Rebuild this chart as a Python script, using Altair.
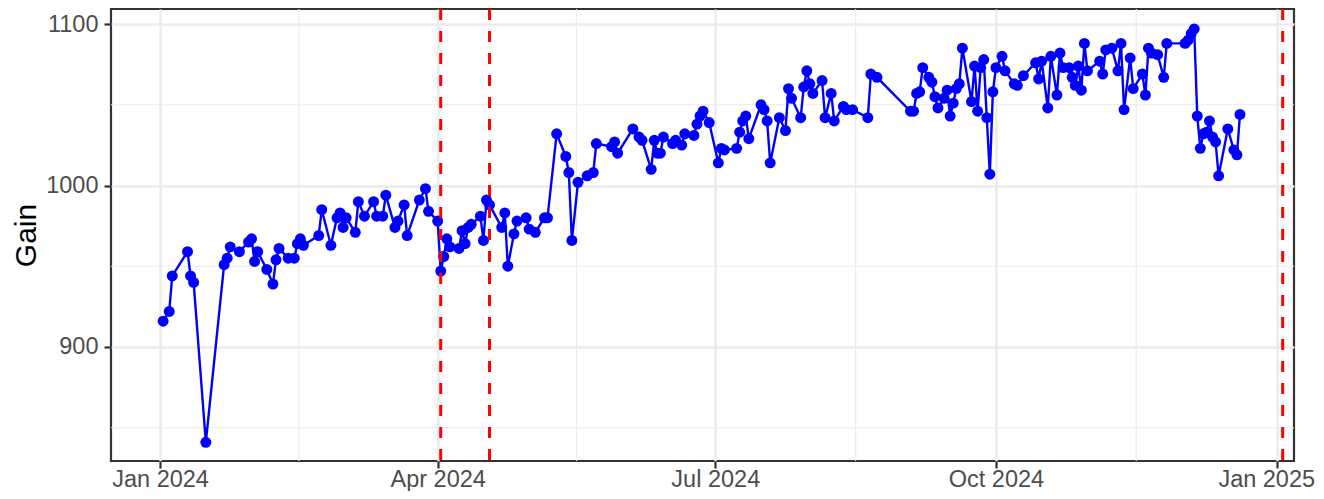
import altair as alt
import pandas as pd

# ---- data ----
dates = [
    "2024-01-02", "2024-01-04", "2024-01-05", "2024-01-10", "2024-01-11", "2024-01-12",
    "2024-01-16", "2024-01-22", "2024-01-23", "2024-01-24", "2024-01-27", "2024-01-30",
    "2024-01-31", "2024-02-01", "2024-02-02", "2024-02-05", "2024-02-07", "2024-02-08",
    "2024-02-09", "2024-02-12", "2024-02-14", "2024-02-15", "2024-02-16", "2024-02-17",
    "2024-02-22", "2024-02-23", "2024-02-26", "2024-02-28", "2024-02-29", "2024-03-01",
    "2024-03-02", "2024-03-05", "2024-03-06", "2024-03-08", "2024-03-11", "2024-03-12",
    "2024-03-14", "2024-03-15", "2024-03-18", "2024-03-19", "2024-03-21", "2024-03-22",
    "2024-03-26", "2024-03-28", "2024-03-29", "2024-04-01",
    "2024-04-02", "2024-04-03", "2024-04-04", "2024-04-05", "2024-04-08", "2024-04-09",
    "2024-04-10", "2024-04-11", "2024-04-12", "2024-04-15", "2024-04-16", "2024-04-17",
    "2024-04-18", "2024-04-22", "2024-04-23", "2024-04-24", "2024-04-26", "2024-04-27",
    "2024-04-30", "2024-05-01", "2024-05-03", "2024-05-06", "2024-05-07", "2024-05-10",
    "2024-05-13", "2024-05-14", "2024-05-15", "2024-05-17", "2024-05-20", "2024-05-22",
    "2024-05-23", "2024-05-28", "2024-05-29", "2024-05-30", "2024-06-04", "2024-06-06",
    "2024-06-07", "2024-06-10", "2024-06-11", "2024-06-12", "2024-06-13", "2024-06-14",
    "2024-06-17", "2024-06-18", "2024-06-20", "2024-06-21", "2024-06-24", "2024-06-25",
    "2024-06-26", "2024-06-27", "2024-06-29",
    "2024-07-02", "2024-07-03", "2024-07-04", "2024-07-08", "2024-07-09", "2024-07-10",
    "2024-07-11", "2024-07-12", "2024-07-16", "2024-07-17", "2024-07-18", "2024-07-19",
    "2024-07-22", "2024-07-24", "2024-07-25", "2024-07-26", "2024-07-29", "2024-07-30",
    "2024-07-31", "2024-08-01", "2024-08-02", "2024-08-05", "2024-08-06", "2024-08-08",
    "2024-08-09", "2024-08-12", "2024-08-13", "2024-08-15", "2024-08-20", "2024-08-21",
    "2024-08-23", "2024-09-03", "2024-09-04", "2024-09-05", "2024-09-06", "2024-09-07",
    "2024-09-09", "2024-09-10", "2024-09-11", "2024-09-12", "2024-09-14", "2024-09-15",
    "2024-09-16", "2024-09-17", "2024-09-18", "2024-09-19", "2024-09-20", "2024-09-23",
    "2024-09-24", "2024-09-25", "2024-09-26", "2024-09-27", "2024-09-28", "2024-09-29",
    "2024-09-30",
    "2024-10-01", "2024-10-03", "2024-10-04", "2024-10-07", "2024-10-08", "2024-10-10",
    "2024-10-14", "2024-10-15", "2024-10-16", "2024-10-18", "2024-10-19", "2024-10-21",
    "2024-10-22", "2024-10-23", "2024-10-25", "2024-10-26", "2024-10-27", "2024-10-28",
    "2024-10-29", "2024-10-30", "2024-10-31", "2024-11-04", "2024-11-05", "2024-11-06",
    "2024-11-08", "2024-11-10", "2024-11-11", "2024-11-12", "2024-11-14", "2024-11-15",
    "2024-11-18", "2024-11-19", "2024-11-20", "2024-11-21", "2024-11-23", "2024-11-25",
    "2024-11-26", "2024-12-02", "2024-12-03", "2024-12-04", "2024-12-05", "2024-12-06",
    "2024-12-07", "2024-12-08", "2024-12-09", "2024-12-10", "2024-12-11", "2024-12-12",
    "2024-12-13", "2024-12-16", "2024-12-18", "2024-12-19", "2024-12-20",
]
gain = [
    916, 922, 944, 959, 944, 940,
    841, 951, 955, 962, 959, 965,
    967, 953, 959, 948, 939, 954,
    961, 955, 955, 964, 967, 963,
    969, 985, 963, 980, 983, 974,
    980, 971, 990, 981, 990, 981,
    981, 994, 974, 978, 988, 969,
    991, 998, 984, 978,
    947, 956, 967, 962, 961, 972,
    964, 974, 976, 981, 966, 991,
    988, 974, 983, 950, 970, 978,
    980, 973, 971, 980, 980, 1032,
    1018, 1008, 966, 1002, 1006, 1008,
    1026, 1024, 1027, 1020, 1035, 1030,
    1028, 1010, 1028, 1020, 1020, 1030,
    1026, 1028, 1025, 1032, 1031, 1038,
    1043, 1046, 1039,
    1014, 1023, 1022, 1023, 1033, 1040,
    1043, 1029, 1050, 1047, 1040, 1014,
    1042, 1034, 1060, 1054, 1042, 1061,
    1071, 1063, 1057, 1065, 1042, 1057,
    1040, 1049, 1047, 1047, 1042, 1069,
    1067, 1046, 1046, 1057, 1058, 1073,
    1067, 1064, 1055, 1048, 1054, 1059,
    1043, 1051, 1060, 1063, 1085, 1052,
    1074, 1046, 1073, 1078, 1042, 1007,
    1058,
    1073, 1080, 1071, 1063, 1062, 1068,
    1076, 1066, 1077, 1048, 1080, 1056,
    1082, 1073, 1073, 1067, 1062, 1074,
    1059, 1088, 1071, 1077, 1069, 1084,
    1085, 1071, 1088, 1047, 1079, 1060,
    1069, 1056, 1085, 1082, 1081, 1067,
    1088, 1088, 1090, 1094, 1097, 1043,
    1023, 1032, 1033, 1040, 1030, 1027,
    1006, 1035, 1022, 1019, 1044,
]
event_dates = ["2024-04-02", "2024-04-18", "2025-01-03"]
x_minor = ["2024-02-15T12:00:00Z", "2024-05-16T12:00:00Z",
           "2024-08-16T00:00:00Z", "2024-11-16T00:00:00Z"]
x_major = [(2024, 1), (2024, 4), (2024, 7), (2024, 10), (2025, 1)]
y_major = [900, 1000, 1100]
y_minor = [850, 950, 1050]

df = pd.DataFrame({"date": dates, "gain": gain})
ev = pd.DataFrame({"d": event_dates})
xm = pd.DataFrame({"d": x_minor})
ym = pd.DataFrame({"v": y_minor})

FONT = "Liberation Sans"
xscale = alt.Scale(
    type="utc",
    domain=[alt.DateTime(year=2023, month=12, date=15, hours=22, utc=True),
            alt.DateTime(year=2025, month=1, date=6, hours=17, utc=True)],
    nice=False,
)
yscale = alt.Scale(domain=[829.4, 1109.3], nice=False, zero=False)

xaxis = alt.Axis(
    values=[alt.DateTime(year=y, month=m, date=1, utc=True) for y, m in x_major],
    format="%b %Y", title=None, domain=False,
    labelFont=FONT, labelFontSize=23.5, labelColor="#4D4D4D",
    labelBaseline="alphabetic", labelPadding=18,
    labelFlush=20, labelFlushOffset=38, labelOverlap=False,
    tickColor="#333333", tickWidth=2.2, tickSize=7,
    grid=True, gridColor="#EBEBEB", gridWidth=2.4,
)
yaxis = alt.Axis(
    values=y_major, format="d", title="Gain", domain=False,
    labelFont=FONT, labelFontSize=23.5, labelColor="#4D4D4D", labelPadding=6,
    tickColor="#333333", tickWidth=2.2, tickSize=7,
    grid=True, gridColor="#EBEBEB", gridWidth=2.4,
    titleFont=FONT, titleFontSize=30, titleFontWeight="normal", titleColor="black",
    titleAngle=270, titleX=-76, titleY=226, titleAlign="center",
    titleBaseline="alphabetic",
)

minor_x = alt.Chart(xm).mark_rule(color="#EBEBEB", strokeWidth=1.2).encode(
    x=alt.X("d:T", scale=xscale, axis=xaxis))
minor_y = alt.Chart(ym).mark_rule(color="#EBEBEB", strokeWidth=1.2).encode(
    y=alt.Y("v:Q", scale=yscale, axis=yaxis))

line = alt.Chart(df).mark_line(color="#0000FF", strokeWidth=2.4).encode(
    x=alt.X("date:T", scale=xscale, axis=xaxis),
    y=alt.Y("gain:Q", scale=yscale, axis=yaxis),
)
pts = alt.Chart(df).mark_circle(color="#0000FF", size=120, opacity=1).encode(
    x=alt.X("date:T", scale=xscale, axis=xaxis),
    y=alt.Y("gain:Q", scale=yscale, axis=yaxis),
)
vlines = alt.Chart(ev).mark_rule(color="#FF0000", strokeWidth=3,
                                 strokeDash=[11, 11]).encode(
    x=alt.X("d:T", scale=xscale, axis=xaxis))

chart = (
    alt.layer(minor_x, minor_y, line, pts, vlines)
    .properties(
        width=1183, height=452,
        autosize=alt.AutoSizeParams(type="none"),
        padding={"left": 103, "top": 1, "right": 22, "bottom": 30},
        background="white",
    )
    .configure_view(stroke="#333333", strokeWidth=2.2)
)

chart.save("out.html", embed_options={"renderer": "svg", "actions": False})
